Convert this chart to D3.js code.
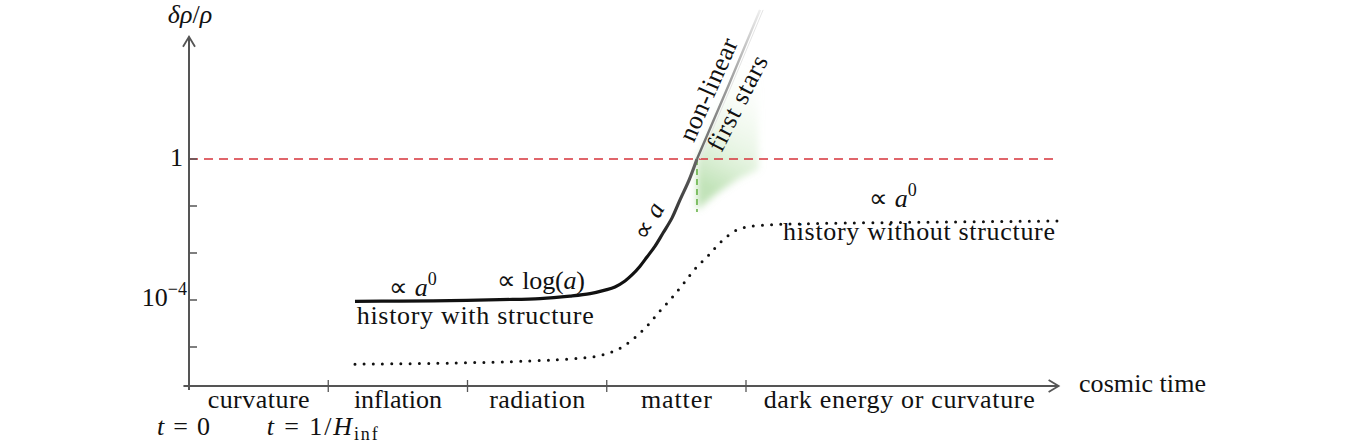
<!DOCTYPE html>
<html>
<head>
<meta charset="utf-8">
<script src="https://cdn.jsdelivr.net/npm/d3@7"></script>
<style>
  body { margin: 0; background: #fff; }
</style>
</head>
<body>
<div class="chart"></div>
<script>
// eras along the time axis (x in era units, log10(δρ/ρ) on y)
const eras = ["curvature", "inflation", "radiation", "matter", "dark energy or curvature"];
const eraCenters = [0.5, 1.5, 2.5, 3.5, 5.1];
const eraBounds = [1, 2, 3, 4];
const yTickVals = [0, -4 / 3, -8 / 3, -4, -16 / 3];

// history with structure (solid)
const withX = [1.192, 1.515, 1.874, 2.233, 2.521, 2.736, 2.88, 2.987, 3.059, 3.131, 3.181, 3.239, 3.289, 3.347, 3.404, 3.469, 3.526, 3.591, 3.648];
const withY = [-4.04, -4.03, -4.02, -3.99, -3.96, -3.89, -3.82, -3.72, -3.63, -3.46, -3.29, -3.04, -2.78, -2.47, -2.1, -1.67, -1.16, -0.6, 0];
// non-linear continuation
const nonlinX = [3.648, 3.876, 4.101];
const nonlinY = [0, 2.1, 4.23];
// history without structure (dotted)
const withoutX = [1.192, 1.874, 2.449, 2.808, 2.959, 3.081, 3.189, 3.289, 3.375, 3.461, 3.548, 3.634, 3.727, 3.821, 3.936, 4.058, 4.388, 5.106, 6.233];
const withoutY = [-5.82, -5.79, -5.73, -5.65, -5.57, -5.4, -5.11, -4.74, -4.34, -3.97, -3.55, -3.12, -2.75, -2.35, -2.01, -1.9, -1.84, -1.8, -1.76];
// first stars region
const starsX = [3.648, 3.876, 4.09, 4.09, 3.95, 3.8, 3.648];
const starsY = [0, 2.1, 4.1, -0.3, -0.55, -0.95, -1.45];

const width = 1368, height = 444;
const serif = "'Liberation Serif'";

const svg = d3.select(".chart").append("svg")
  .attr("width", width).attr("height", height);

const x = d3.scaleLinear().domain([0, 5]).range([189, 885.25]);
const y = d3.scaleLinear().domain([0, -4]).range([159, 300]);

const defs = svg.append("defs");

const gLine = defs.append("linearGradient").attr("id", "fadeLine")
  .attr("gradientUnits", "userSpaceOnUse")
  .attr("x1", x(3.3)).attr("y1", y(-2.8)).attr("x2", x(3.648)).attr("y2", y(0));
gLine.append("stop").attr("offset", 0).attr("stop-color", "#111");
gLine.append("stop").attr("offset", 1).attr("stop-color", "#666");

const gNon = defs.append("linearGradient").attr("id", "fadeNon")
  .attr("gradientUnits", "userSpaceOnUse")
  .attr("x1", x(3.648)).attr("y1", y(0)).attr("x2", x(4.101)).attr("y2", y(4.23));
gNon.append("stop").attr("offset", 0).attr("stop-color", "#666");
gNon.append("stop").attr("offset", 0.6).attr("stop-color", "#aaa");
gNon.append("stop").attr("offset", 1).attr("stop-color", "#eee");

// green fades away from the line, to the right and upward
const gGreen = defs.append("linearGradient").attr("id", "green")
  .attr("gradientUnits", "userSpaceOnUse")
  .attr("x1", x(3.648)).attr("y1", y(-0.6)).attr("x2", x(4.06)).attr("y2", y(2.6));
gGreen.append("stop").attr("offset", 0).attr("stop-color", "#86c874").attr("stop-opacity", 0.5);
gGreen.append("stop").attr("offset", 0.35).attr("stop-color", "#a6d897").attr("stop-opacity", 0.26);
gGreen.append("stop").attr("offset", 0.75).attr("stop-color", "#c2e3b6").attr("stop-opacity", 0.08);
gGreen.append("stop").attr("offset", 1).attr("stop-color", "#d8efd0").attr("stop-opacity", 0);

defs.append("filter").attr("id", "soft")
  .attr("x", "-30%").attr("y", "-30%").attr("width", "160%").attr("height", "160%")
  .append("feGaussianBlur").attr("stdDeviation", 3.5);

const line = d3.line().x((d) => x(d[0])).y((d) => y(d[1]));
const smooth = d3.line().x((d) => x(d[0])).y((d) => y(d[1])).curve(d3.curveCatmullRom);

// first stars shading
svg.append("path")
  .datum(d3.zip(starsX, starsY))
  .attr("d", d3.line().x((d) => x(d[0])).y((d) => y(d[1])).curve(d3.curveLinearClosed))
  .style("fill", "url(#green)")
  .style("filter", "url(#soft)");

// δρ/ρ = 1
svg.append("line")
  .attr("x1", x(0)).attr("x2", x(6.23))
  .attr("y1", y(0)).attr("y2", y(0))
  .style("stroke", "#d6333b").style("stroke-width", 1.6)
  .style("stroke-dasharray", "9,6");

svg.append("line")
  .attr("x1", x(3.648)).attr("x2", x(3.648))
  .attr("y1", y(0)).attr("y2", y(-1.5))
  .style("stroke", "#5fae3e").style("stroke-width", 1.5)
  .style("stroke-dasharray", "6,4");

// axes
const axisColor = "#555";
svg.append("line")
  .attr("x1", x(0)).attr("x2", x(0)).attr("y1", y(-6.55)).attr("y2", y(3.47))
  .style("stroke", axisColor).style("stroke-width", 2);
svg.append("path")
  .attr("d", `M${x(0) - 6},${y(3.47) + 10}L${x(0)},${y(3.47)}L${x(0) + 6},${y(3.47) + 10}`)
  .style("fill", "none").style("stroke", axisColor).style("stroke-width", 1.8);

svg.append("line")
  .attr("x1", x(-0.04)).attr("x2", x(6.245)).attr("y1", y(-6.44)).attr("y2", y(-6.44))
  .style("stroke", axisColor).style("stroke-width", 2);
svg.append("path")
  .attr("d", `M${x(6.245) - 10},${y(-6.44) - 6}L${x(6.245)},${y(-6.44)}L${x(6.245) - 10},${y(-6.44) + 6}`)
  .style("fill", "none").style("stroke", axisColor).style("stroke-width", 1.8);

svg.selectAll(".ytick").data(yTickVals).enter().append("line")
  .attr("class", "ytick")
  .attr("x1", x(0)).attr("x2", x(0) + 8)
  .attr("y1", (d) => y(d)).attr("y2", (d) => y(d))
  .style("stroke", axisColor).style("stroke-width", 1.5);

svg.selectAll(".xtick").data(eraBounds).enter().append("line")
  .attr("class", "xtick")
  .attr("x1", (d) => x(d)).attr("x2", (d) => x(d))
  .attr("y1", y(-6.44) - 6).attr("y2", y(-6.44) + 6)
  .style("stroke", axisColor).style("stroke-width", 1.3);

// curves
svg.append("path")
  .datum(d3.zip(withoutX, withoutY))
  .attr("d", smooth)
  .style("fill", "none").style("stroke", "#111").style("stroke-width", 3)
  .style("stroke-linecap", "round").style("stroke-dasharray", "0,9.2");

svg.append("path")
  .datum(d3.zip(nonlinX, nonlinY).map((d) => [d[0] + 0.022, d[1]]))
  .attr("d", line)
  .style("fill", "none").style("stroke", "#e4e4e4").style("stroke-width", 1);

svg.append("path")
  .datum(d3.zip(nonlinX, nonlinY))
  .attr("d", line)
  .style("fill", "none").style("stroke", "url(#fadeNon)").style("stroke-width", 2.4);

svg.append("path")
  .datum(d3.zip(withX, withY))
  .attr("d", smooth)
  .style("fill", "none").style("stroke", "url(#fadeLine)").style("stroke-width", 3.2);

// text
const fs = 26;
function label(tx, ty, parts, opts = {}) {
  const t = svg.append("text")
    .attr("x", tx).attr("y", ty)
    .attr("text-anchor", opts.anchor || "middle")
    .style("font-family", serif)
    .style("font-size", fs + "px")
    .style("fill", "#111");
  if (opts.rotate) t.attr("transform", `rotate(${opts.rotate},${tx},${ty})`);
  if (opts.len) t.attr("textLength", opts.len).attr("lengthAdjust", "spacing");
  parts.forEach((p) => {
    const q = typeof p === "string" ? { t: p } : p;
    const s = t.append("tspan").text(q.t)
      .style("font-family", serif)
      .style("font-size", (q.size || fs) + "px")
      .style("font-style", q.it ? "italic" : "normal");
    if (q.dy) s.attr("dy", q.dy);
  });
  return t;
}

label(x(0) + 1, 23, [{ t: "δρ", it: true }, "/", { t: "ρ", it: true }]);
label(x(0) - 6, y(0) + 7, ["1"], { anchor: "end" });
label(x(0) - 2, y(-4) + 6, ["10", { t: "−4", dy: -11, size: 18 }], { anchor: "end" });

eras.forEach((e, i) => {
  const lens = [102, 88, 96, 71, 271];
  label(x(eraCenters[i]), y(-6.44) + 22, [e], { len: lens[i] });
});
label(1079, 392, ["cosmic time"], { anchor: "start", len: 127 });
label(x(-0.04), 435, [{ t: "t", it: true }, " = 0"], { len: 53 });
label(x(0.957), 435, [{ t: "t", it: true }, " = 1/", { t: "H", it: true }, { t: "inf", dy: 5, size: 18 }], { len: 111 });

label(x(1.19) + 2, 324, ["history with structure"], { anchor: "start", len: 237 });
label(x(1.192) + 58, 296, ["∝ ", { t: "a", it: true }, { t: "0", dy: -11, size: 18 }]);
label(x(2.528), 289, ["∝ log(", { t: "a", it: true }, ")"], { len: 88 });
label(783, 240, ["history without structure"], { anchor: "start", len: 272 });
label(893, 207, ["∝ ", { t: "a", it: true }, { t: "0", dy: -11, size: 18 }]);

label(656, 225, ["∝ ", { t: "a", it: true }], { rotate: -62 });
label(716, 93, ["non-linear"], { rotate: -66, len: 110 });
label(745, 107, ["first stars"], { rotate: -63, len: 104 });
</script>
</body>
</html>
